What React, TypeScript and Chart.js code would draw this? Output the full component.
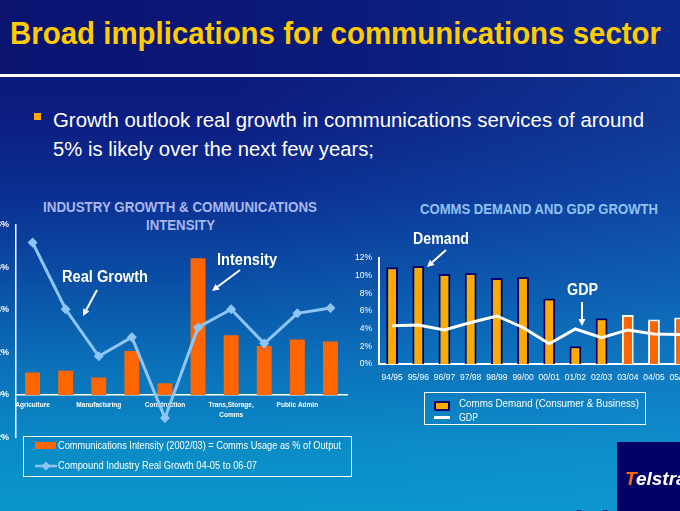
import React, { useEffect, useLayoutEffect, useRef } from 'react';
import { Chart, registerables } from 'chart.js';

Chart.register(...registerables);

// ---------- Data ----------
const industryLabels: (string | string[])[] = [
  'Agriculture', '', 'Manufacturing', '', 'Construction', '',
  ['Trans,Storage,', 'Comms'], '', 'Public Admin', '',
];
const commsIntensity = [1.05, 1.14, 0.82, 2.06, 0.55, 6.41, 2.8, 2.3, 2.6, 2.51];
const realGrowth = [7.15, 4.02, 1.81, 2.71, -1.08, 3.17, 4.02, 2.41, 3.83, 4.08];
const industryTicks = [-2, 0, 2, 4, 6, 8];

const years = ['94/95', '95/96', '96/97', '97/98', '98/99', '99/00', '00/01', '01/02', '02/03', '03/04', '04/05', '05/06'];
const commsDemand = [10.97, 11.1, 10.19, 10.3, 9.74, 9.86, 7.41, 2.0, 5.19, 5.56, 5.03, 5.26];
const gdpGrowth = [4.33, 4.41, 3.86, 4.7, 5.44, 4.14, 2.3, 3.97, 2.97, 3.86, 3.41, 3.33];
const forecastFrom = 9;
const demandTicks = [0, 2, 4, 6, 8, 10, 12];

const FONT = '"Liberation Sans", Arial, Helvetica, sans-serif';

// ---------- Helpers ----------
type FitProps = {
  x: number; baseline: number; size: number; width?: number; weight?: string | number;
  color: string; italic?: boolean; children: React.ReactNode;
};
function FitText({ x, baseline, size, width, weight = 'normal', color, italic, children }: FitProps) {
  const ref = useRef<HTMLSpanElement>(null);
  useLayoutEffect(() => {
    const el = ref.current;
    if (!el || !width) return;
    el.style.transform = 'none';
    const w = el.getBoundingClientRect().width;
    if (w > 0) el.style.transform = `scaleX(${width / w})`;
  }, [width]);
  return (
    <span
      ref={ref}
      style={{
        position: 'absolute', left: x, top: baseline - 0.8465 * size,
        fontSize: size, lineHeight: `${size}px`, fontFamily: FONT, fontWeight: weight as any,
        fontStyle: italic ? 'italic' : 'normal', color, whiteSpace: 'nowrap', transformOrigin: '0 0',
      }}
    >
      {children}
    </span>
  );
}

function Arrow({ x1, y1, x2, y2 }: { x1: number; y1: number; x2: number; y2: number }) {
  const dx = x2 - x1, dy = y2 - y1;
  const len = Math.hypot(dx, dy);
  const ux = dx / len, uy = dy / len;
  const hl = 7, hw = 3.5;
  const bx = x2 - ux * hl, by = y2 - uy * hl;
  const px = -uy, py = ux;
  return (
    <g>
      <line x1={x1} y1={y1} x2={bx} y2={by} stroke="#fff" strokeWidth={2} />
      <polygon points={`${x2},${y2} ${bx + px * hw},${by + py * hw} ${bx - px * hw},${by - py * hw}`} fill="#fff" />
    </g>
  );
}

// ---------- Charts ----------
function IndustryChart() {
  const ref = useRef<HTMLCanvasElement>(null);
  useEffect(() => {
    if (!ref.current) return;
    const chart = new Chart(ref.current, {
      type: 'bar',
      data: {
        labels: industryLabels as any,
        datasets: [
          {
            type: 'line' as const,
            label: 'Compound Industry Real Growth 04-05 to 06-07',
            data: realGrowth,
            borderColor: '#8ec5f7',
            backgroundColor: '#8ec5f7',
            borderWidth: 3,
            pointStyle: 'rectRot',
            pointRadius: 5,
            pointBorderWidth: 0,
            pointBackgroundColor: '#8ec5f7',
            tension: 0,
            order: 0,
          },
          {
            type: 'bar' as const,
            label: 'Communications Intensity (2002/03) = Comms Usage as % of Output',
            data: commsIntensity,
            backgroundColor: '#ff6600',
            borderWidth: 0,
            barPercentage: 0.45,
            categoryPercentage: 1,
            order: 1,
          },
        ] as any,
      },
      options: {
        responsive: false,
        animation: false,
        layout: { padding: { top: 10, bottom: 10, left: 0, right: 4 } },
        plugins: { legend: { display: false }, tooltip: { enabled: false } },
        scales: {
          x: {
            position: { y: 0 } as any,
            offset: true,
            grid: { display: false, drawTicks: false },
            border: { display: true, color: '#ffffff', width: 1.5 },
            ticks: {
              color: '#ffffff', autoSkip: false, maxRotation: 0, minRotation: 0, padding: 6,
              font: { family: FONT, size: 6.5, weight: 'bold', lineHeight: 1.45 },
            },
          },
          y: {
            min: -2, max: 8,
            afterBuildTicks: (s: any) => { s.ticks = industryTicks.map((v) => ({ value: v })); },
            afterFit: (s: any) => { s.width = 56; },
            grid: { display: false, drawTicks: false },
            border: { display: true, color: '#ffffff', width: 1.5 },
            ticks: {
              color: '#ffffff', padding: 7,
              font: { family: FONT, size: 9, weight: 'bold' },
              callback: (v: any) => `${v}%`,
            },
          },
        },
      } as any,
    });
    return () => chart.destroy();
  }, []);
  return (
    <canvas ref={ref} width={392} height={238}
      style={{ position: 'absolute', left: -40, top: 212, width: 392, height: 238 }} />
  );
}

function DemandChart() {
  const ref = useRef<HTMLCanvasElement>(null);
  useEffect(() => {
    if (!ref.current) return;
    const chart = new Chart(ref.current, {
      type: 'bar',
      data: {
        labels: years,
        datasets: [
          {
            type: 'line' as const,
            label: 'GDP',
            data: gdpGrowth,
            borderColor: '#ffffff',
            borderWidth: 3,
            pointRadius: 0,
            tension: 0,
            order: 0,
          },
          {
            type: 'bar' as const,
            label: 'Comms Demand (Consumer & Business)',
            data: commsDemand,
            backgroundColor: (c: any) => (c.dataIndex >= forecastFrom ? '#ff6600' : '#ffaa00'),
            borderColor: (c: any) => (c.dataIndex >= forecastFrom ? '#ffffff' : '#000066'),
            borderWidth: 2,
            barPercentage: 0.45,
            categoryPercentage: 1,
            order: 1,
          },
        ] as any,
      },
      options: {
        responsive: false,
        animation: false,
        layout: { padding: { top: 10, bottom: 0, left: 0, right: 5 } },
        plugins: { legend: { display: false }, tooltip: { enabled: false } },
        scales: {
          x: {
            offset: true,
            afterFit: (s: any) => { s.height = 20; },
            grid: { display: false, drawTicks: false },
            border: { display: true, color: '#ffffff', width: 2 },
            ticks: {
              color: '#ffffff', autoSkip: false, maxRotation: 0, minRotation: 0, padding: 9,
              font: { family: FONT, size: 8.5 },
            },
          },
          y: {
            min: 0, max: 12,
            afterBuildTicks: (s: any) => { s.ticks = demandTicks.map((v) => ({ value: v })); },
            afterFit: (s: any) => { s.width = 39; },
            grid: { display: false, drawTicks: false },
            border: { display: true, color: '#ffffff', width: 2 },
            ticks: {
              color: '#ffffff', padding: 7,
              font: { family: FONT, size: 8.5 },
              callback: (v: any) => `${v}%`,
            },
          },
        },
      } as any,
    });
    return () => chart.destroy();
  }, []);
  return (
    <canvas ref={ref} width={360} height={138}
      style={{ position: 'absolute', left: 340, top: 246, width: 360, height: 138 }} />
  );
}

// ---------- Slide ----------
export default function App() {
  return (
    <div
      style={{
        position: 'fixed', left: 0, top: 0, width: 680, height: 511, overflow: 'hidden',
        background:
          'linear-gradient(90deg, rgba(0,0,0,0) 0%, rgba(0,0,0,0) 35%, rgba(30,150,225,0.22) 100%), ' +
          'linear-gradient(180deg, #0b1370 0%, #0c1c80 22%, #0b2f92 38%, #0a4fa6 55%, #0a71b9 72%, #0a8cc6 88%, #0a96cb 100%)',
        fontFamily: FONT,
      }}
    >
      {/* title band */}
      <div style={{ position: 'absolute', left: 0, top: 0, width: 680, height: 74,
        background: 'linear-gradient(90deg, #0a1370 0%, #0b1a7a 50%, #0c2a8a 100%)' }} />
      <div style={{ position: 'absolute', left: 0, top: 74, width: 680, height: 3, background: '#ffffff' }} />
      <FitText x={10} baseline={44} size={32} width={651} weight="bold" color="#ffcc00">
        Broad implications for communications sector
      </FitText>

      {/* bullet */}
      <div style={{ position: 'absolute', left: 34, top: 113, width: 7, height: 7, background: '#ffaa00' }} />
      <FitText x={53} baseline={127.3} size={20.5} width={591} color="#ffffff">
        Growth outlook real growth in communications services of around
      </FitText>
      <FitText x={53} baseline={156.7} size={20.5} width={321} color="#ffffff">
        5% is likely over the next few years;
      </FitText>

      {/* chart titles */}
      <FitText x={43} baseline={211.7} size={14} width={274} weight="bold" color="#a9b7ef">
        INDUSTRY GROWTH &amp; COMMUNICATIONS
      </FitText>
      <FitText x={146} baseline={230} size={14} width={69} weight="bold" color="#a9b7ef">
        INTENSITY
      </FitText>
      <FitText x={420} baseline={214} size={14.5} width={238} weight="bold" color="#8fc2f2">
        COMMS DEMAND AND GDP GROWTH
      </FitText>

      <IndustryChart />
      <DemandChart />

      {/* annotations */}
      <FitText x={62} baseline={282.7} size={16} width={86} weight="bold" color="#ffffff">Real Growth</FitText>
      <FitText x={217} baseline={266} size={16} width={60} weight="bold" color="#ffffff">Intensity</FitText>
      <FitText x={413} baseline={245} size={16} width={56} weight="bold" color="#ffffff">Demand</FitText>
      <FitText x={567} baseline={296} size={16} width={31} weight="bold" color="#ffffff">GDP</FitText>
      <svg width={680} height={511} style={{ position: 'absolute', left: 0, top: 0, pointerEvents: 'none' }}>
        <Arrow x1={97} y1={290} x2={83} y2={316} />
        <Arrow x1={240} y1={270} x2={212} y2={291} />
        <Arrow x1={446} y1={250} x2={427} y2={267} />
        <Arrow x1={582} y1={302} x2={582} y2={326} />
      </svg>

      {/* left legend */}
      <div style={{ position: 'absolute', left: 23, top: 436, width: 329, height: 41,
        border: '1.5px solid #ffffff', boxSizing: 'border-box' }} />
      <div style={{ position: 'absolute', left: 35, top: 442, width: 21, height: 7, background: '#ff6600' }} />
      <svg width={24} height={12} style={{ position: 'absolute', left: 34, top: 460 }}>
        <line x1={1} y1={6} x2={23} y2={6} stroke="#8ec5f7" strokeWidth={2.5} />
        <polygon points="12,1.5 16.5,6 12,10.5 7.5,6" fill="#8ec5f7" />
      </svg>
      <FitText x={58} baseline={449.3} size={10.5} width={283} color="#ffffff">
        Communications Intensity (2002/03) = Comms Usage as % of Output
      </FitText>
      <FitText x={58} baseline={469.3} size={10.5} width={199} color="#ffffff">
        Compound Industry Real Growth 04-05 to 06-07
      </FitText>

      {/* right legend */}
      <div style={{ position: 'absolute', left: 424, top: 392, width: 222, height: 33,
        border: '1.5px solid #ffffff', boxSizing: 'border-box' }} />
      <div style={{ position: 'absolute', left: 434, top: 401, width: 16, height: 10, background: '#ffaa00',
        border: '2px solid #000066', boxSizing: 'border-box' }} />
      <div style={{ position: 'absolute', left: 434, top: 416, width: 16, height: 3, background: '#ffffff' }} />
      <FitText x={459} baseline={407.7} size={11} width={180} color="#ffffff">
        Comms Demand (Consumer &amp; Business)
      </FitText>
      <FitText x={459} baseline={421.7} size={11} width={19} color="#ffffff">GDP</FitText>

      {/* logo & page */}
      <div style={{ position: 'absolute', left: 617, top: 442, width: 63, height: 69, background: '#000066' }} />
      <FitText x={625} baseline={485} size={19} weight="bold" italic color="#ffffff">
        <span style={{ color: '#ff6a00' }}>T</span>elstra
      </FitText>
      <FitText x={576} baseline={518} size={10} color="#000066">Page 7</FitText>
    </div>
  );
}
